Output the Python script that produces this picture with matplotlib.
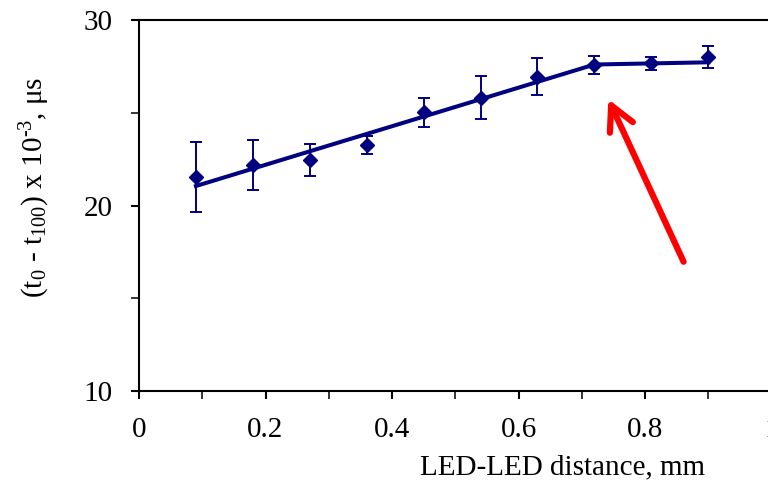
import numpy as np
import matplotlib
matplotlib.use('Agg')
from matplotlib import pyplot as plt
from matplotlib.ticker import MultipleLocator

plt.rcParams['font.family'] = ['Liberation Serif', 'DejaVu Serif']
plt.rcParams['mathtext.fontset'] = 'custom'
plt.rcParams['mathtext.rm'] = 'Liberation Serif'
plt.rcParams['mathtext.default'] = 'regular'

navy = '#000080'

# measured points
dist = [0.09, 0.18, 0.27, 0.36, 0.45, 0.54, 0.63, 0.72, 0.81, 0.90]
dt = [21.55, 22.18, 22.45, 23.26, 25.02, 25.81, 26.93, 27.57, 27.66, 28.02]
dt_err = [1.9, 1.35, 0.85, 0.5, 0.8, 1.15, 1.0, 0.5, 0.35, 0.6]

# two-segment fit
fit_x = [0.09, 0.72, 0.90]
fit_y = [21.05, 27.6, 27.72]

xticks = [0, 0.2, 0.4, 0.6, 0.8, 1.0]
xticklabels = ['0', '0.2', '0.4', '0.6', '0.8', '1']
yticks = [10, 20, 30]

fig = plt.figure(figsize=(7.68, 4.84), dpi=100)
ax = fig.add_axes([139/768, 1 - 391/484, 632.5/768, 371/484])

ax.errorbar(dist, dt, yerr=dt_err, fmt='none', ecolor=navy, elinewidth=1.4,
            capsize=4.3, capthick=1.4, zorder=2)
ax.plot(fit_x, fit_y, '-', color=navy, lw=2.9, zorder=3)
ax.plot(dist, dt, 'D', color=navy, ms=6.8, zorder=4)

ax.set_xlim(0, 1.0)
ax.set_ylim(10, 30)
ax.set_xticks(xticks)
ax.set_xticklabels(xticklabels)
ax.xaxis.set_minor_locator(MultipleLocator(0.1))
ax.set_yticks(yticks)
ax.yaxis.set_minor_locator(MultipleLocator(5))

for s in ['left', 'bottom', 'top', 'right']:
    ax.spines[s].set_linewidth(1.5)
ax.tick_params(axis='both', which='major', direction='out', length=6, width=1.5,
               labelsize=21, pad=13)
ax.tick_params(axis='both', which='minor', direction='out', length=5.5, width=1.1)
ax.tick_params(axis='x', which='both', top=False)

ax.set_xlabel('LED-LED distance, mm', fontsize=21, va='center')
ax.xaxis.set_label_coords(0.67, -0.205)
ax.set_ylabel(r'(t$_0$ - t$_{100}$) x 10$^{\text{-3}}$, μs', fontsize=21, va='center')
ax.yaxis.set_label_coords(-0.165, 0.55)

ax.annotate('', xy=(0.742, 25.73), xytext=(0.861, 16.97),
            arrowprops=dict(arrowstyle='->, head_length=0.5, head_width=0.26',
                            color='red', lw=4.5, mutation_scale=35,
                            capstyle='round', joinstyle='round',
                            shrinkA=0, shrinkB=0))

plt.savefig('out.png', dpi=100)
